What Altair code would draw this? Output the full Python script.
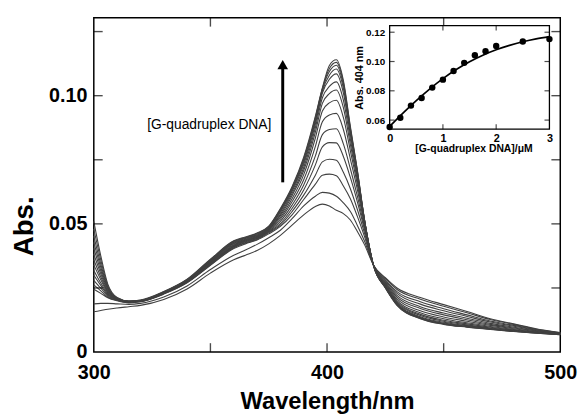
import altair as alt
import pandas as pd

BOLD_FONT = "Liberation Sans, Arial, sans-serif"
SANS = "Liberation Sans, Arial, sans-serif"

# ---------------- main spectra (15 titration curves) ----------------
wavelengths = [300, 303, 306, 310, 315, 320, 330, 340, 350, 360, 365, 370, 375, 380,
               385, 390, 395, 398, 401, 404, 407, 410, 413, 416, 420, 425, 430, 440,
               450, 460, 470, 480, 490, 500]

# each row: absorbance of curves 0 (no DNA) ... 14 (most DNA) at that wavelength
spectra_rows = [
    [0.0157, 0.0188, 0.0245, 0.0262, 0.0280, 0.0300, 0.0318, 0.0340, 0.0360, 0.0382, 0.0405, 0.0428, 0.0452, 0.0480, 0.0510],
    [0.0162, 0.0190, 0.0229, 0.0239, 0.0249, 0.0260, 0.0269, 0.0282, 0.0293, 0.0305, 0.0317, 0.0330, 0.0343, 0.0359, 0.0375],
    [0.0167, 0.0190, 0.0212, 0.0215, 0.0219, 0.0223, 0.0227, 0.0231, 0.0235, 0.0239, 0.0244, 0.0249, 0.0253, 0.0259, 0.0265],
    [0.0172, 0.0188, 0.0200, 0.0201, 0.0202, 0.0203, 0.0204, 0.0205, 0.0206, 0.0207, 0.0208, 0.0209, 0.0210, 0.0211, 0.0213],
    [0.0177, 0.0186, 0.0192, 0.0193, 0.0194, 0.0195, 0.0195, 0.0196, 0.0196, 0.0197, 0.0197, 0.0198, 0.0198, 0.0199, 0.0199],
    [0.0182, 0.0190, 0.0196, 0.0197, 0.0197, 0.0198, 0.0198, 0.0199, 0.0199, 0.0200, 0.0200, 0.0201, 0.0201, 0.0202, 0.0203],
    [0.0205, 0.0215, 0.0226, 0.0227, 0.0228, 0.0229, 0.0230, 0.0231, 0.0231, 0.0232, 0.0233, 0.0233, 0.0234, 0.0235, 0.0236],
    [0.0246, 0.0258, 0.0270, 0.0271, 0.0273, 0.0274, 0.0275, 0.0276, 0.0277, 0.0278, 0.0279, 0.0280, 0.0281, 0.0283, 0.0284],
    [0.0308, 0.0322, 0.0338, 0.0340, 0.0342, 0.0344, 0.0346, 0.0348, 0.0350, 0.0352, 0.0354, 0.0356, 0.0358, 0.0360, 0.0362],
    [0.0360, 0.0378, 0.0404, 0.0407, 0.0410, 0.0412, 0.0414, 0.0417, 0.0419, 0.0422, 0.0424, 0.0427, 0.0429, 0.0432, 0.0434],
    [0.0378, 0.0398, 0.0422, 0.0425, 0.0427, 0.0430, 0.0432, 0.0434, 0.0436, 0.0438, 0.0440, 0.0443, 0.0445, 0.0447, 0.0449],
    [0.0396, 0.0420, 0.0437, 0.0439, 0.0442, 0.0444, 0.0446, 0.0448, 0.0450, 0.0452, 0.0455, 0.0457, 0.0459, 0.0462, 0.0464],
    [0.0422, 0.0446, 0.0461, 0.0465, 0.0468, 0.0471, 0.0474, 0.0477, 0.0479, 0.0481, 0.0483, 0.0485, 0.0487, 0.0489, 0.0491],
    [0.0455, 0.0475, 0.0490, 0.0495, 0.0501, 0.0510, 0.0518, 0.0525, 0.0532, 0.0538, 0.0545, 0.0550, 0.0554, 0.0557, 0.0560],
    [0.0495, 0.0520, 0.0535, 0.0548, 0.0560, 0.0573, 0.0586, 0.0598, 0.0610, 0.0618, 0.0626, 0.0632, 0.0637, 0.0641, 0.0645],
    [0.0535, 0.0570, 0.0595, 0.0612, 0.0632, 0.0652, 0.0672, 0.0692, 0.0708, 0.0720, 0.0732, 0.0740, 0.0748, 0.0754, 0.0760],
    [0.0568, 0.0608, 0.0655, 0.0690, 0.0730, 0.0765, 0.0802, 0.0835, 0.0858, 0.0875, 0.0890, 0.0900, 0.0908, 0.0914, 0.0920],
    [0.0577, 0.0623, 0.0690, 0.0742, 0.0800, 0.0848, 0.0898, 0.0940, 0.0970, 0.0992, 0.1010, 0.1018, 0.1024, 0.1027, 0.1030],
    [0.0570, 0.0620, 0.0694, 0.0752, 0.0817, 0.0868, 0.0925, 0.0972, 0.1008, 0.1036, 0.1064, 0.1080, 0.1094, 0.1106, 0.1118],
    [0.0553, 0.0608, 0.0688, 0.0748, 0.0816, 0.0871, 0.0931, 0.0982, 0.1022, 0.1054, 0.1085, 0.1104, 0.1119, 0.1130, 0.1140],
    [0.0540, 0.0582, 0.0648, 0.0701, 0.0763, 0.0812, 0.0868, 0.0915, 0.0953, 0.0983, 0.1011, 0.1029, 0.1042, 0.1052, 0.1060],
    [0.0515, 0.0548, 0.0598, 0.0637, 0.0681, 0.0715, 0.0753, 0.0785, 0.0810, 0.0830, 0.0848, 0.0859, 0.0868, 0.0874, 0.0880],
    [0.0470, 0.0494, 0.0529, 0.0556, 0.0586, 0.0608, 0.0634, 0.0653, 0.0669, 0.0680, 0.0691, 0.0698, 0.0702, 0.0707, 0.0710],
    [0.0420, 0.0434, 0.0452, 0.0466, 0.0480, 0.0489, 0.0499, 0.0506, 0.0511, 0.0514, 0.0516, 0.0518, 0.0519, 0.0520, 0.0520],
    [0.0338, 0.0338, 0.0337, 0.0337, 0.0337, 0.0336, 0.0336, 0.0336, 0.0336, 0.0335, 0.0335, 0.0335, 0.0335, 0.0335, 0.0335],
    [0.0290, 0.0287, 0.0282, 0.0278, 0.0273, 0.0269, 0.0265, 0.0261, 0.0258, 0.0256, 0.0254, 0.0253, 0.0251, 0.0251, 0.0250],
    [0.0250, 0.0244, 0.0236, 0.0229, 0.0221, 0.0214, 0.0207, 0.0201, 0.0196, 0.0192, 0.0189, 0.0186, 0.0185, 0.0183, 0.0182],
    [0.0213, 0.0206, 0.0196, 0.0187, 0.0177, 0.0170, 0.0161, 0.0153, 0.0147, 0.0143, 0.0138, 0.0135, 0.0133, 0.0131, 0.0130],
    [0.0185, 0.0179, 0.0169, 0.0161, 0.0152, 0.0145, 0.0137, 0.0130, 0.0124, 0.0120, 0.0116, 0.0113, 0.0111, 0.0109, 0.0108],
    [0.0158, 0.0153, 0.0145, 0.0139, 0.0132, 0.0126, 0.0120, 0.0114, 0.0110, 0.0106, 0.0103, 0.0101, 0.0099, 0.0098, 0.0097],
    [0.0130, 0.0127, 0.0121, 0.0117, 0.0112, 0.0108, 0.0104, 0.0100, 0.0097, 0.0094, 0.0092, 0.0091, 0.0090, 0.0089, 0.0088],
    [0.0110, 0.0108, 0.0104, 0.0101, 0.0097, 0.0094, 0.0091, 0.0088, 0.0086, 0.0085, 0.0083, 0.0082, 0.0081, 0.0081, 0.0080],
    [0.0090, 0.0089, 0.0087, 0.0085, 0.0083, 0.0082, 0.0080, 0.0078, 0.0077, 0.0076, 0.0076, 0.0075, 0.0075, 0.0074, 0.0074],
    [0.0076, 0.0075, 0.0074, 0.0074, 0.0073, 0.0072, 0.0071, 0.0071, 0.0070, 0.0070, 0.0069, 0.0069, 0.0069, 0.0068, 0.0068],
]

x_domain = [300, 500]
y_domain = [0, 0.1304]
x_label_values = [300, 400, 500]
y_label_values = [0, 0.05, 0.10]
x_tick_values = [350, 400, 450]
y_tick_values = [0.025, 0.05, 0.075, 0.10, 0.125]

arrow_wl = 381
arrow_y = [0.0662, 0.1114]
arrow_head_y = 0.1121
label_text = "[G-quadruplex DNA]"
label_pos = [349.5, 0.0885]

# ---------------- inset ----------------
conc = [0, 0.2, 0.4, 0.6, 0.8, 1.0, 1.2, 1.4, 1.6, 1.8, 2.0, 2.5, 3.0]
abs404 = [0.0553, 0.0616, 0.0699, 0.0751, 0.0822, 0.0876, 0.0935, 0.0991, 0.1043, 0.1070, 0.1106, 0.1137, 0.1153]
fit_conc = [0, 0.25, 0.5, 0.75, 1.0, 1.25, 1.5, 1.75, 2.0, 2.25, 2.5, 2.75, 3.0]
fit_abs = [0.0557, 0.0648, 0.0733, 0.0812, 0.0883, 0.0945, 0.0998, 0.1043, 0.1080, 0.1110, 0.1135, 0.1155, 0.1170]
inset_x_domain = [0, 3]
inset_y_domain = [0.0538, 0.1245]
inset_x_labels = [0, 1, 2, 3]
inset_y_labels = [0.06, 0.08, 0.10, 0.12]
inset_x_ticks = [1, 2]

# ---------------- build ----------------
W, H = 473, 339
inset_px_x = [300, 462]
inset_px_y = [113, 8]

rows = []
for wl, vals in zip(wavelengths, spectra_rows):
    for k, v in enumerate(vals):
        rows.append({"wl": wl, "a": v, "curve": k})
spec_df = pd.DataFrame(rows)

xs = alt.Scale(domain=x_domain, nice=False, zero=False)
ys = alt.Scale(domain=y_domain, nice=False, zero=False)

x_axis = alt.Axis(values=x_label_values, format="d", ticks=False, domain=False, grid=False,
                  labelFlush=False, labelFont=BOLD_FONT, labelFontSize=20, labelFontWeight="bold",
                  labelColor="black", labelPadding=11,
                  title="Wavelength/nm", titleFont=BOLD_FONT, titleFontSize=24, titleFontWeight="bold",
                  titleColor="black", titleY=57, titleBaseline="alphabetic")
y_axis = alt.Axis(values=y_label_values, format=".2f",
                  labelExpr="datum.value == 0 ? '0' : datum.label",
                  ticks=False, domain=False, grid=False,
                  labelFont=BOLD_FONT, labelFontSize=20, labelFontWeight="bold", labelColor="black",
                  labelPadding=7,
                  title="Abs.", titleFont=SANS, titleFontSize=28, titleFontWeight="bold",
                  titleColor="black", titleX=-62, titleY=211, titleBaseline="alphabetic")

def X(f="wl"):
    return alt.X(f"{f}:Q", scale=xs, axis=x_axis)

def Y(f="a"):
    return alt.Y(f"{f}:Q", scale=ys, axis=y_axis)

spectra = alt.Chart(spec_df).mark_line(interpolate="monotone", strokeWidth=1.1, color="#404040").encode(
    x=X(), y=Y(), detail="curve:N", order="wl:Q")

tick_style = dict(color="black", thickness=1.4, size=9)
bottom_ticks = alt.Chart(pd.DataFrame({"wl": x_tick_values, "a": [y_domain[0]] * len(x_tick_values)})).mark_tick(
    orient="vertical", yOffset=-4.5, **tick_style).encode(x=X(), y=Y())
top_ticks = alt.Chart(pd.DataFrame({"wl": x_tick_values, "a": [y_domain[1]] * len(x_tick_values)})).mark_tick(
    orient="vertical", yOffset=4.5, **tick_style).encode(x=X(), y=Y())
left_ticks = alt.Chart(pd.DataFrame({"wl": [x_domain[0]] * len(y_tick_values), "a": y_tick_values})).mark_tick(
    orient="horizontal", xOffset=4.5, **tick_style).encode(x=X(), y=Y())
right_ticks = alt.Chart(pd.DataFrame({"wl": [x_domain[1]] * len(y_tick_values), "a": y_tick_values})).mark_tick(
    orient="horizontal", xOffset=-4.5, **tick_style).encode(x=X(), y=Y())

arrow = alt.Chart(pd.DataFrame({"wl": [arrow_wl], "a": [arrow_y[0]], "a2": [arrow_y[1]]})).mark_rule(
    color="black", strokeWidth=3).encode(x=X(), y=Y(), y2="a2:Q")
head = alt.Chart(pd.DataFrame({"wl": [arrow_wl], "a": [arrow_head_y]})).mark_point(
    shape="triangle-up", filled=True, size=115, color="black", opacity=1).encode(x=X(), y=Y())
label = alt.Chart(pd.DataFrame({"wl": [label_pos[0]], "a": [label_pos[1]], "t": [label_text]})).mark_text(
    font=SANS, fontSize=14, color="black", align="center", baseline="middle").encode(x=X(), y=Y(), text="t:N")

main = alt.layer(spectra, bottom_ticks, top_ticks, left_ticks, right_ticks, arrow, head, label)

# inset
ixs = alt.Scale(domain=inset_x_domain, range=inset_px_x, nice=False, zero=False)
iys = alt.Scale(domain=inset_y_domain, range=inset_px_y, nice=False, zero=False)
ix_axis = alt.Axis(orient="bottom", offset=inset_px_y[0] - H, values=inset_x_labels, format="d",
                   ticks=False, domain=False, grid=False, labelFlush=False,
                   labelFont=BOLD_FONT, labelFontSize=11, labelFontWeight="bold", labelColor="black",
                   labelPadding=3,
                   title="[G-quadruplex DNA]/\u03bcM", titleFont=BOLD_FONT, titleFontSize=10.5,
                   titleFontWeight="bold", titleColor="black", titleX=385, titleY=23,
                   titleBaseline="alphabetic")
iy_axis = alt.Axis(orient="left", offset=-inset_px_x[0], values=inset_y_labels, format=".2f",
                   ticks=False, domain=False, grid=False,
                   labelFont=BOLD_FONT, labelFontSize=10, labelFontWeight="bold", labelColor="black",
                   labelPadding=5,
                   title="Abs. 404 nm", titleFont=BOLD_FONT, titleFontSize=11, titleFontWeight="bold",
                   titleColor="black", titleX=-28, titleBaseline="alphabetic")

def IX(f="c"):
    return alt.X(f"{f}:Q", scale=ixs, axis=ix_axis)

def IY(f="r"):
    return alt.Y(f"{f}:Q", scale=iys, axis=iy_axis)

frame = alt.Chart(pd.DataFrame({"c": [inset_x_domain[0]], "c2": [inset_x_domain[1]],
                                "r": [inset_y_domain[0]], "r2": [inset_y_domain[1]]})).mark_rect(
    fill="white", stroke="black", strokeWidth=1.3).encode(x=IX(), x2="c2:Q", y=IY(), y2="r2:Q")
fit = alt.Chart(pd.DataFrame({"c": fit_conc, "r": fit_abs})).mark_line(
    interpolate="monotone", color="black", strokeWidth=1.7).encode(x=IX(), y=IY(), order="c:Q")
pts = alt.Chart(pd.DataFrame({"c": conc, "r": abs404})).mark_circle(
    size=42, color="black", opacity=1).encode(x=IX(), y=IY())

itick = dict(color="black", thickness=1.2, size=5)
ib = alt.Chart(pd.DataFrame({"c": inset_x_ticks, "r": [inset_y_domain[0]] * 2})).mark_tick(
    orient="vertical", yOffset=-2.5, **itick).encode(x=IX(), y=IY())
it = alt.Chart(pd.DataFrame({"c": inset_x_ticks, "r": [inset_y_domain[1]] * 2})).mark_tick(
    orient="vertical", yOffset=2.5, **itick).encode(x=IX(), y=IY())
il = alt.Chart(pd.DataFrame({"c": [inset_x_domain[0]] * 4, "r": inset_y_labels})).mark_tick(
    orient="horizontal", xOffset=2.5, **itick).encode(x=IX(), y=IY())
ir = alt.Chart(pd.DataFrame({"c": [inset_x_domain[1]] * 4, "r": inset_y_labels})).mark_tick(
    orient="horizontal", xOffset=-2.5, **itick).encode(x=IX(), y=IY())

inset = alt.layer(frame, fit, pts, ib, it, il, ir)

chart = alt.layer(main, inset).resolve_scale(x="independent", y="independent").properties(
    width=W, height=H,
    padding={"left": 87, "top": 7, "right": 20, "bottom": 65},
    autosize=alt.AutoSizeParams(type="none"),
    background="white",
).configure_view(stroke="black", strokeWidth=1.5)

chart.save("out.html", embed_options={"renderer": "svg", "actions": False})
